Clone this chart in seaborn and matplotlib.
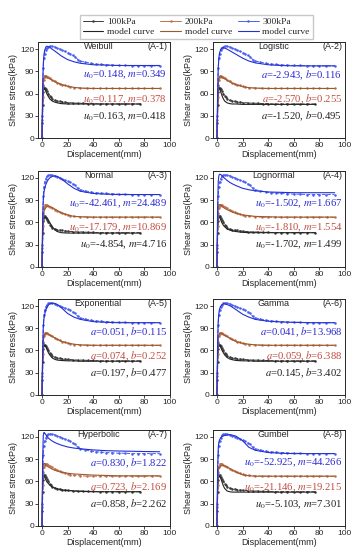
import matplotlib
matplotlib.use("Agg")
import matplotlib.pyplot as plt
import seaborn as sns
from matplotlib.lines import Line2D

# experimental data (displacement mm, shear stress kPa)
x100 = [0, 0.3, 0.6, 1.0, 1.5, 2.0, 3, 4, 5, 6, 7, 8, 10, 12, 14, 16, 18, 20,
        24, 28, 32, 36, 40, 45, 50, 55, 60, 65, 70, 77]
y100 = [0, 20, 45, 62, 68, 68, 66, 63, 60, 57, 55, 53, 51, 50, 49.5, 49, 48.5, 48,
        47.5, 47, 47, 46.5, 46.5, 46, 46, 46, 46, 46, 46, 46]
x200 = [0, 0.3, 0.6, 1, 1.5, 2, 2.5, 3, 4, 5, 6, 8, 10, 12, 14, 16, 18, 20, 22,
        25, 30, 35, 40, 45, 50, 55, 60, 65, 70, 75, 80, 86, 92]
y200 = [0, 25, 55, 72, 79, 82, 84, 84, 83, 82, 81, 79, 77, 75, 73.5, 72, 71, 70, 69,
        68, 67.5, 67, 67, 67, 67, 67, 67, 67, 67, 67, 67, 67, 67]
x300 = [0, 0.3, 0.6, 1, 1.5, 2, 3, 4, 5, 6, 8, 10, 12, 14, 16, 18, 20, 22, 24, 26,
        28, 30, 34, 38, 42, 46, 50, 55, 60, 65, 70, 75, 80, 85, 92]
y300 = [0, 30, 70, 95, 108, 114, 119, 122, 123.5, 124, 124, 123, 121.5, 120, 118.5,
        117, 115.5, 114, 112, 110, 106, 104, 102.5, 101, 100, 99.5, 99, 98.5, 98,
        98, 97.5, 97.5, 97.5, 97.5, 97.5]

# model curve grids
mx_low = [0, 0.5, 1, 1.5, 2, 3, 4, 5, 6, 8, 10, 12, 15, 20, 25, 30, 40, 50, 60, 77]
mx_high = [0, 0.5, 1, 1.5, 2, 3, 4, 5, 6, 8, 10, 12, 15, 20, 25, 30, 40, 50, 60, 75, 92]

panel_names = ["Weibull", "Logistic", "Normal", "Lognormal",
               "Exponential", "Gamma", "Hyperbolic", "Gumbel"]
panel_tags = ["(A-1)", "(A-2)", "(A-3)", "(A-4)", "(A-5)", "(A-6)", "(A-7)", "(A-8)"]

m100 = [
    [0, 40, 64, 68, 67, 63, 59, 56, 53, 50, 48.5, 47.5, 46.5, 46, 46, 46, 46, 46, 46, 46],
    [0, 35, 62, 68, 67, 62, 57, 53, 50, 47.5, 46.5, 46, 46, 45.5, 45.5, 45.5, 45.5, 45.5, 45.5, 45.5],
    [0, 40, 58, 64, 66, 67, 66, 63, 60, 54, 50, 47.5, 46, 45.5, 45.5, 45.5, 45.5, 45.5, 45.5, 45.5],
    [0, 50, 67, 68, 67, 63, 59, 56, 54, 51, 49.5, 48.5, 47.5, 46.5, 46, 46, 46, 46, 46, 46],
    [0, 40, 62, 66, 67, 65, 61, 57, 54, 50, 48, 47, 46.5, 46, 46, 45.5, 45.5, 45.5, 45.5, 45.5],
    [0, 45, 64, 67.5, 67.5, 64, 60, 57, 54, 50.5, 48.5, 47.5, 46.5, 46, 46, 45.5, 45.5, 45.5, 45.5, 45.5],
    [0, 55, 68, 68, 66, 62, 59, 57, 55, 52.5, 51, 50, 48.5, 47.5, 47, 46.5, 46, 46, 46, 46],
    [0, 45, 63, 67, 67, 64, 59, 54, 50.5, 47, 46, 45.5, 45.5, 45.5, 45.5, 45.5, 45.5, 45.5, 45.5, 45.5],
]
m200 = [
    [0, 45, 75, 82, 84, 83.5, 82, 81, 80, 78, 76, 74.5, 72.5, 70, 68.5, 67.5, 67, 67, 67, 67, 67],
    [0, 40, 72, 80, 83, 83, 82, 81, 80, 78, 76, 74, 72, 69.5, 68, 67.5, 67, 67, 67, 67, 67],
    [0, 45, 68, 74, 77, 80, 81.5, 82, 81.5, 80, 78, 76, 73, 70, 68, 67.5, 67, 67, 67, 67, 67],
    [0, 55, 80, 84, 84, 83, 81.5, 80, 79, 77, 75.5, 74, 72, 70, 69, 68, 67.5, 67, 67, 67, 67],
    [0, 45, 72, 79, 82, 83.5, 83, 82, 81, 79, 77, 75, 72.5, 70, 68.5, 67.5, 67, 67, 67, 67, 67],
    [0, 50, 75, 81, 83, 83.5, 82.5, 81.5, 80.5, 78.5, 76.5, 74.5, 72, 69.5, 68.5, 67.5, 67, 67, 67, 67, 67],
    [0, 60, 82, 84.5, 84, 82, 80.5, 79.5, 78.5, 76.5, 75, 74, 72.5, 71, 70, 69.5, 68.5, 68, 67.5, 67.5, 67.5],
    [0, 55, 73, 77, 79, 81, 81.5, 81.5, 81, 79.5, 77.5, 75.5, 72.5, 69, 67.5, 67, 67, 67, 67, 67, 67],
]
m300 = [
    [0, 70, 100, 112, 118, 123, 124, 123.5, 122.5, 120, 117.5, 115, 111, 106, 103, 101, 99, 98.5, 98, 98, 98],
    [0, 60, 95, 108, 115, 120, 122, 122, 121.5, 120, 118, 116, 113, 108, 104, 101.5, 99, 98, 97.5, 97.5, 97.5],
    [0, 65, 90, 100, 105, 111, 115, 118, 120, 122, 122.5, 122, 119, 112, 106, 102, 99, 98, 97.5, 97.5, 97.5],
    [0, 80, 115, 123, 125, 124.5, 123, 121, 119.5, 116.5, 114, 112, 109.5, 106, 104, 102.5, 101, 100.5, 100, 100, 100],
    [0, 60, 90, 102, 108, 115, 119, 121.5, 123, 124, 123.5, 122, 118, 110, 105, 102, 99, 98, 97.5, 97.5, 97.5],
    [0, 70, 100, 110, 116, 120, 122, 123, 123, 122, 120.5, 118.5, 115, 109, 105, 102, 99.5, 98.5, 98, 97.5, 97.5],
    [0, 90, 122, 126, 125.5, 123, 120.5, 118.5, 117, 114.5, 112.5, 111, 109, 106.5, 105, 104, 102.5, 101.5, 101, 100.5, 100],
    [0, 75, 105, 113, 116, 119, 120.5, 121.5, 122, 122.5, 123, 122.5, 121, 115, 106, 102, 99, 98, 97.5, 97.5, 97.5],
]

# fitted parameters: (name1, name2) and values for 300 / 200 / 100 kPa
param_names = [("u_0", "m"), ("a", "b"), ("u_0", "m"), ("u_0", "m"),
               ("a", "b"), ("a", "b"), ("a", "b"), ("u_0", "m")]
p300 = [("0.148", "0.349"), ("-2.943", "0.116"), ("-42.461", "24.489"), ("-1.502", "1.667"),
        ("0.051", "0.115"), ("0.041", "13.968"), ("0.830", "1.822"), ("-52.925", "44.266")]
p200 = [("0.117", "0.378"), ("-2.570", "0.255"), ("-17.179", "10.869"), ("-1.810", "1.554"),
        ("0.074", "0.252"), ("0.059", "6.388"), ("0.723", "2.169"), ("-21.146", "19.215")]
p100 = [("0.163", "0.418"), ("-1.520", "0.495"), ("-4.854", "4.716"), ("-1.702", "1.499"),
        ("0.197", "0.477"), ("0.145", "3.402"), ("0.858", "2.262"), ("-5.103", "7.301")]

c_data = ["#3a3a3a", "#c0704a", "#4a5ef0"]
c_model = ["#222222", "#9a5a30", "#2430d0"]
c_text = ["#222222", "#c04a40", "#2a2ad0"]

sns.set_style("ticks")
plt.rcParams["font.family"] = ["Liberation Sans", "DejaVu Sans"]
plt.rcParams["mathtext.fontset"] = "stix"

fig = plt.figure(figsize=(3.6, 5.5), dpi=100)

lefts = [0.106, 0.592]
width = 0.366
bottoms = [0.749, 0.515, 0.282, 0.044]
height = 0.175

serif = ["Liberation Serif", "DejaVu Serif"]

for i in range(8):
    row, col = divmod(i, 2)
    ax = fig.add_axes([lefts[col], bottoms[row], width, height])
    data = [(x100, y100), (x200, y200), (x300, y300)]
    models = [(mx_low, m100[i]), (mx_high, m200[i]), (mx_high, m300[i])]
    for k in range(3):
        sns.lineplot(x=data[k][0], y=data[k][1], ax=ax, color=c_data[k],
                     lw=0.7, ls="--", marker="o", markersize=1.8,
                     markeredgewidth=0, sort=False)
        sns.lineplot(x=models[k][0], y=models[k][1], ax=ax, color=c_model[k],
                     lw=0.8, sort=False)
    ax.set_xlim(-3, 100)
    ax.set_ylim(0, 130)
    ax.set_xticks([0, 20, 40, 60, 80, 100])
    ax.set_yticks([0, 30, 60, 90, 120])
    ax.tick_params(labelsize=6, length=2, width=0.6, pad=1)
    for s in ax.spines.values():
        s.set_linewidth(0.7)
        s.set_visible(True)
    ax.set_xlabel("Displacement(mm)", fontsize=6.5, labelpad=0.5)
    ax.set_ylabel("Shear stress(kPa)", fontsize=6.5, labelpad=1)
    ax.text(44, 123, panel_names[i], fontsize=6.5, ha="center", va="center")
    ax.text(98, 123, panel_tags[i], fontsize=6.5, ha="right", va="center")
    n1, n2 = param_names[i]
    for k, (pv, yy) in enumerate([(p100[i], 29), (p200[i], 52), (p300[i], 85)]):
        txt = f"${n1}$={pv[0]}, ${n2}$={pv[1]}"
        ax.text(98, yy, txt, fontsize=7.7, ha="right", va="center",
                color=c_text[k], family=serif)

handles = []
labels = []
for k, lab in enumerate(["100kPa", "200kPa", "300kPa"]):
    handles.append(Line2D([], [], color=c_data[k], lw=0.7, marker="o",
                          markersize=1.8, markeredgewidth=0))
    labels.append(lab)
    handles.append(Line2D([], [], color=c_model[k], lw=0.8))
    labels.append("model curve")
fig.legend(handles, labels, ncol=3, loc="upper center",
           bbox_to_anchor=(0.545, 0.982), prop={"family": serif, "size": 6.8},
           frameon=True, fancybox=False, edgecolor="#bbbbbb",
           handlelength=2.2, handletextpad=0.4, columnspacing=0.6,
           labelspacing=0.15, borderpad=0.3)

fig.savefig("out.png", dpi=100)
